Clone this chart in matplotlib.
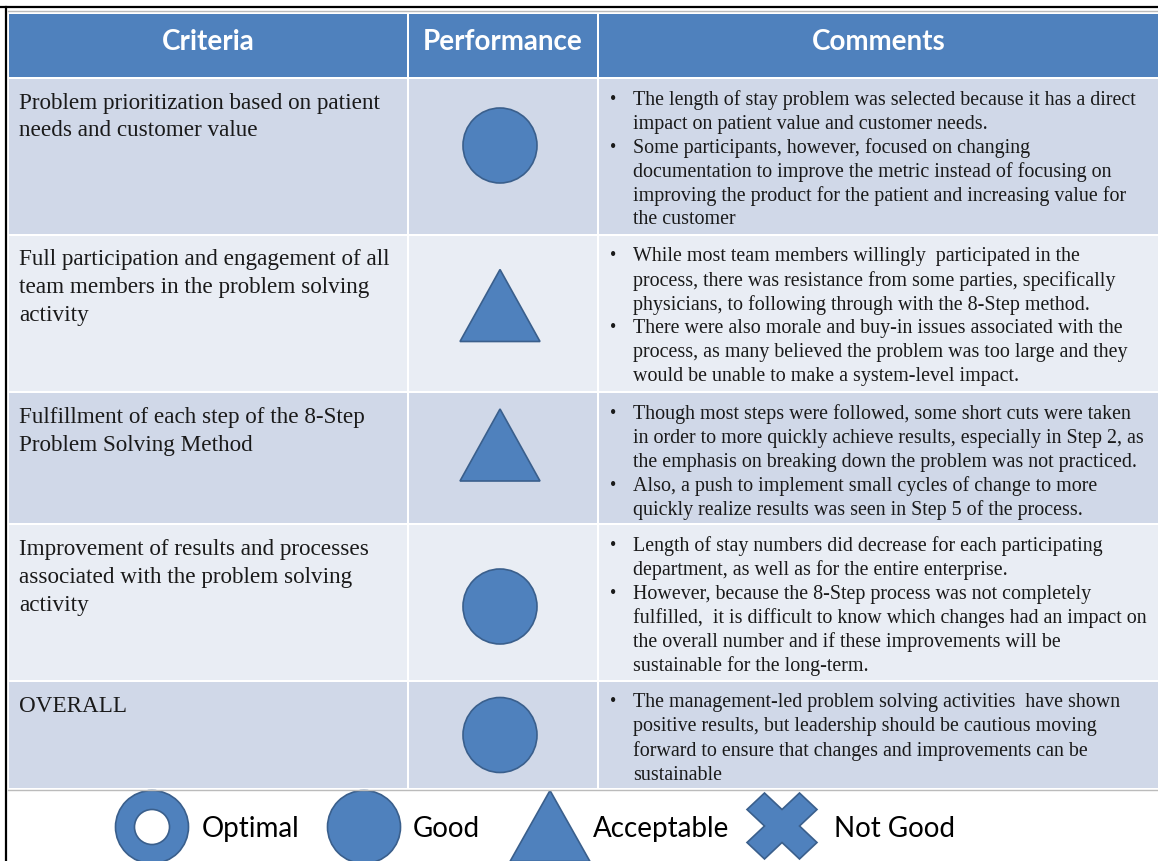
# Evaluation table: criteria, performance symbol and comments, with a symbol legend.

import matplotlib.pyplot as plt
from matplotlib.patches import Rectangle, Ellipse, Polygon

headers = ['Criteria', 'Performance', 'Comments']

criteria = [
    ['Problem prioritization based on patient', 'needs and customer value'],
    ['Full participation and engagement of all', 'team members in the problem solving', 'activity'],
    ['Fulfillment of each step of the 8-Step', 'Problem Solving Method'],
    ['Improvement of results and processes', 'associated with the problem solving', 'activity'],
    ['OVERALL'],
]

performance = ['good', 'acceptable', 'acceptable', 'good', 'good']

comments = [
    [['The length of stay problem was selected because it has a direct',
      'impact on patient value and customer needs.'],
     ['Some participants, however, focused on changing',
      'documentation to improve the metric instead of focusing on',
      'improving the product for the patient and increasing value for',
      'the customer']],
    [['While most team members willingly  participated in the',
      'process, there was resistance from some parties, specifically',
      'physicians, to following through with the 8-Step method.'],
     ['There were also morale and buy-in issues associated with the',
      'process, as many believed the problem was too large and they',
      'would be unable to make a system-level impact.']],
    [['Though most steps were followed, some short cuts were taken',
      'in order to more quickly achieve results, especially in Step 2, as',
      'the emphasis on breaking down the problem was not practiced.'],
     ['Also, a push to implement small cycles of change to more',
      'quickly realize results was seen in Step 5 of the process.']],
    [['Length of stay numbers did decrease for each participating',
      'department, as well as for the entire enterprise.'],
     ['However, because the 8-Step process was not completely',
      'fulfilled,  it is difficult to know which changes had an impact on',
      'the overall number and if these improvements will be',
      'sustainable for the long-term.']],
    [['The management-led problem solving activities  have shown',
      'positive results, but leadership should be cautious moving',
      'forward to ensure that changes and improvements can be',
      'sustainable']],
]

legend_kinds = ['optimal', 'good', 'acceptable', 'notgood']
legend_labels = ['Optimal', 'Good', 'Acceptable', 'Not Good']

# layout (pixels)
W, H = 1158, 861
col_edges = [8, 408, 598, 1160]
header_top, header_bot = 14, 77
row_tops = [79, 236, 393, 525, 682]
row_bots = [234, 391, 523, 680, 788]
symbol_dy = [-11, -8, -13, 4, 0]

blue = '#4F81BD'
edge = '#3A5F8C'
dark_row = '#D0D8E8'
light_row = '#E9EDF4'
txt = '#1a1a1a'

fig = plt.figure(figsize=(W / 100, H / 100), dpi=100)
ax = fig.add_axes([0, 0, 1, 1])
ax.set_xlim(0, W)
ax.set_ylim(H, 0)
ax.axis('off')

# outer frame
ax.plot([0, W], [7, 7], color='black', lw=1.6)
ax.plot([6, 6], [7, H], color='black', lw=1.6)
ax.plot([8, W], [11, 11], color='#BBBBBB', lw=1)

# header
for i, h in enumerate(headers):
    x0, x1 = col_edges[i], col_edges[i + 1]
    ax.add_patch(Rectangle((x0 + 1, header_top), x1 - x0 - 2, header_bot - header_top,
                           facecolor=blue, edgecolor='none'))
    ax.text((x0 + x1) / 2, (header_top + header_bot) / 2 - 4, h, color='white',
            fontsize=20, fontweight='bold', family='Lato', ha='center', va='center')


def draw_shape(kind, cx, cy, w, h):
    if kind == 'good':
        ax.add_patch(Ellipse((cx, cy), w, h, facecolor=blue, edgecolor=edge, lw=1.2))
    elif kind == 'optimal':
        ax.add_patch(Ellipse((cx, cy), w, h, facecolor=blue, edgecolor=edge, lw=1.2))
        ax.add_patch(Ellipse((cx, cy), w * 0.48, h * 0.48, facecolor='white', edgecolor=edge, lw=1.2))
    elif kind == 'acceptable':
        pts = [(cx, cy - h / 2), (cx + w / 2, cy + h / 2), (cx - w / 2, cy + h / 2)]
        ax.add_patch(Polygon(pts, closed=True, facecolor=blue, edgecolor=edge, lw=1.2))
    elif kind == 'notgood':
        sx, sy = w / 2, h / 2
        tx, ty = w * 0.25, h * 0.25
        pts = [(cx - sx, cy - sy + ty), (cx - sx + tx, cy - sy), (cx, cy - ty),
               (cx + sx - tx, cy - sy), (cx + sx, cy - sy + ty), (cx + tx, cy),
               (cx + sx, cy + sy - ty), (cx + sx - tx, cy + sy), (cx, cy + ty),
               (cx - sx + tx, cy + sy), (cx - sx, cy + sy - ty), (cx - tx, cy)]
        ax.add_patch(Polygon(pts, closed=True, facecolor=blue, edgecolor=edge, lw=1.2))


for r in range(len(criteria)):
    top, bot = row_tops[r], row_bots[r]
    color = dark_row if r % 2 == 0 else light_row
    for i in range(3):
        x0, x1 = col_edges[i], col_edges[i + 1]
        ax.add_patch(Rectangle((x0 + 1, top), x1 - x0 - 2, bot - top,
                               facecolor=color, edgecolor='none'))
    # criteria text
    for k, line in enumerate(criteria[r]):
        ax.text(19, top + 24 + 28 * k, line, fontsize=16.7, family='Liberation Serif',
                color=txt, ha='left', va='center')
    # performance symbol
    cx = 500
    cy = (top + bot) / 2 + symbol_dy[r]
    if performance[r] == 'acceptable':
        draw_shape('acceptable', cx, cy, 80, 72)
    else:
        draw_shape('good', cx, cy, 74, 75)
    # comments
    y = top + 21
    for bullet in comments[r]:
        ax.text(610, y - 1, '\u2022', fontsize=13, family='Liberation Serif',
                color=txt, ha='left', va='center')
        for line in bullet:
            ax.text(633, y, line, fontsize=14.4, family='Liberation Serif',
                    color=txt, ha='left', va='center')
            y += 24

# legend strip
ax.plot([8, W], [790, 790], color='#BBBBBB', lw=1)
leg_x = [152, 364, 550, 782]
lab_x = [202, 413, 593, 834]
for kind, lab, sx, tx in zip(legend_kinds, legend_labels, leg_x, lab_x):
    if kind == 'acceptable':
        draw_shape(kind, sx, 826, 80, 71)
    elif kind == 'notgood':
        draw_shape(kind, sx, 826, 70, 66)
    else:
        draw_shape(kind, sx, 827, 73, 73)
    ax.text(tx, 829, lab, fontsize=20, family='Lato', color='black', ha='left', va='center')

fig.savefig('out.png', dpi=100)
